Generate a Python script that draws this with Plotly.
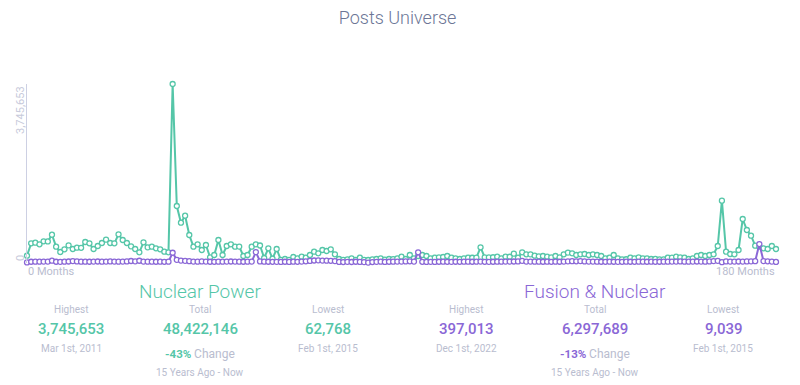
import plotly.graph_objects as go

# ---------------- data ----------------
months = list(range(0, 181))

nuclear_power = [
    153, 412, 425, 391, 454, 451, 592, 341, 230, 287,
    370, 293, 320, 318, 439, 412, 293, 356, 419, 488,
    419, 412, 601, 481, 419, 349, 293, 224, 433, 328,
    341, 308, 287, 236, 224, 3745.653, 1193, 843, 990, 586,
    341, 391, 272, 377, 119, 167, 481, 167, 356, 391,
    341, 343, 146, 167, 341, 391, 366, 105, 308, 90,
    293, 66, 84, 66, 126, 98, 132, 111, 167, 236,
    203, 272, 251, 287, 182, 84, 66, 77, 98, 65,
    111, 66, 62.768, 77, 84, 98, 69, 84, 83, 98,
    132, 84, 167, 98, 146, 167, 146, 98, 111, 119,
    126, 146, 111, 98, 84, 98, 111, 110, 112, 329,
    119, 118, 120, 132, 98, 132, 131, 195, 111, 224,
    182, 181, 153, 140, 146, 132, 119, 146, 119, 182,
    216, 203, 167, 182, 188, 167, 182, 167, 146, 98,
    111, 167, 98, 77, 78, 111, 98, 119, 98, 97,
    84, 85, 77, 76, 111, 112, 132, 119, 111, 84,
    98, 146, 167, 146, 167, 182, 356, 1304, 236, 188,
    182, 272, 921, 691, 571, 362, 341, 308, 293, 356,
    293,
]
nuclear_power = [v * 1000 for v in nuclear_power]

fusion_nuclear = [
    12, 26, 28, 27, 29, 30, 48, 26, 24, 27,
    31, 40, 33, 28, 27, 26, 29, 31, 27, 30,
    32, 30, 28, 29, 33, 42, 35, 47, 30, 28,
    27, 26, 27, 25, 28, 215, 66, 50, 45, 38,
    30, 28, 33, 29, 26, 25, 28, 27, 30, 31,
    29, 27, 26, 28, 30, 228, 34, 28, 26, 25,
    24, 22, 26, 23, 27, 25, 30, 36, 44, 52,
    55, 50, 48, 46, 40, 22, 20, 24, 21, 26,
    23, 19, 9.039, 20, 24, 27, 22, 26, 28, 30,
    29, 33, 36, 30, 224, 25, 22, 24, 23, 26,
    27, 25, 24, 26, 25, 27, 28, 26, 27, 30,
    25, 24, 26, 27, 28, 30, 29, 31, 33, 45,
    30, 29, 28, 27, 26, 27, 25, 28, 26, 30,
    35, 38, 36, 40, 34, 30, 29, 28, 26, 25,
    27, 26, 24, 25, 27, 26, 25, 28, 27, 26,
    27, 25, 26, 28, 27, 29, 30, 32, 28, 27,
    29, 31, 30, 28, 33, 40, 45, 18, 34, 30,
    29, 31, 30, 33, 35, 38, 397.013, 40, 36, 30,
    22,
]
fusion_nuclear = [v * 1000 for v in fusion_nuclear]

series_names = ["Nuclear Power", "Fusion & Nuclear"]
stat_labels = ["Highest", "Total", "Lowest"]
highest = ["3,745,653", "397,013"]
highest_dates = ["Mar 1st, 2011", "Dec 1st, 2022"]
totals = ["48,422,146", "6,297,689"]
changes = ["-43%", "-13%"]
lowest = ["62,768", "9,039"]
lowest_dates = ["Feb 1st, 2015", "Feb 1st, 2015"]
period_text = "15 Years Ago - Now"
x_labels = ["0 Months", "180 Months"]
y_labels = ["0", "3,745,653"]

# ---------------- style ----------------
W, H = 800, 385
L, R, T, B = 27, 24, 84, 122
GREEN = "#55c6a8"
PURPLE = "#8a67d6"
GRAY = "#b9bdcf"
TITLE = "#6c7696"
FONT = "Roboto"

pw = W - L - R
ph = H - T - B


def px(x):
    return (x - L) / pw


def py(y):
    return (H - B - y) / ph


fig = go.Figure()
for vals, col, name in [(nuclear_power, GREEN, series_names[0]),
                        (fusion_nuclear, PURPLE, series_names[1])]:
    fig.add_trace(go.Scatter(
        x=months, y=vals, mode="lines+markers", name=name,
        line=dict(color=col, width=2),
        marker=dict(symbol="circle", size=5, color="white",
                    line=dict(color=col, width=1.3)),
        cliponaxis=False, showlegend=False,
    ))

ymax = max(nuclear_power)

ann = []


def text(x, y, s, size, color, weight=400, xanchor="center", yanchor="middle", angle=0):
    ann.append(dict(x=px(x), y=py(y), xref="paper", yref="paper", text=s,
                    showarrow=False, xanchor=xanchor, yanchor=yanchor,
                    textangle=angle,
                    font=dict(family=FONT, size=size, color=color, weight=weight)))


# axis labels
text(20, 84, y_labels[1], 11, "#c7cadb", yanchor="top", angle=-90)
text(20, 263, y_labels[0], 11, "#c7cadb", yanchor="bottom", angle=-90)
text(26, 271.5, x_labels[0], 11, GRAY, xanchor="left")
text(777, 271.5, x_labels[1], 11, GRAY, xanchor="right")

# stats blocks
blocks = [
    (0, GREEN, 200, 71, 328),
    (1, PURPLE, 595, 466, 723),
]
for i, col, cx, hx, lx in blocks:
    text(cx, 291, series_names[i], 19, col, weight=300)
    text(hx, 309.5, stat_labels[0], 10, GRAY)
    text(cx, 309.5, stat_labels[1], 10, GRAY)
    text(lx, 309.5, stat_labels[2], 10, GRAY)
    text(hx, 328.5, highest[i], 15, col, weight=500)
    text(cx, 328.5, totals[i], 15, col, weight=500)
    text(lx, 328.5, lowest[i], 15, col, weight=500)
    text(hx, 348, highest_dates[i], 10, GRAY)
    text(lx, 348, lowest_dates[i], 10, GRAY)
    text(cx, 353.5, f"<b>{changes[i]}</b> <span style='color:{GRAY};font-size:12px'>Change</span>",
         11.5, col)
    text(cx, 372.5, period_text, 10, GRAY)

fig.update_layout(
    width=W, height=H,
    margin=dict(l=L, r=R, t=T, b=B),
    paper_bgcolor="white", plot_bgcolor="white",
    title=dict(text="Posts Universe", x=0.497, xanchor="center", y=1 - 18 / H,
               yanchor="middle",
               font=dict(family=FONT, size=18, color=TITLE, weight=300)),
    xaxis=dict(range=[0, 180], showgrid=False, zeroline=False, showline=False,
               showticklabels=False, ticks=""),
    yaxis=dict(range=[0, ymax], showgrid=False, zeroline=False, showline=True,
               linecolor="#cdd0e3", linewidth=1, showticklabels=False, ticks=""),
    annotations=ann,
    font=dict(family=FONT),
)

fig.write_html("out.html")
